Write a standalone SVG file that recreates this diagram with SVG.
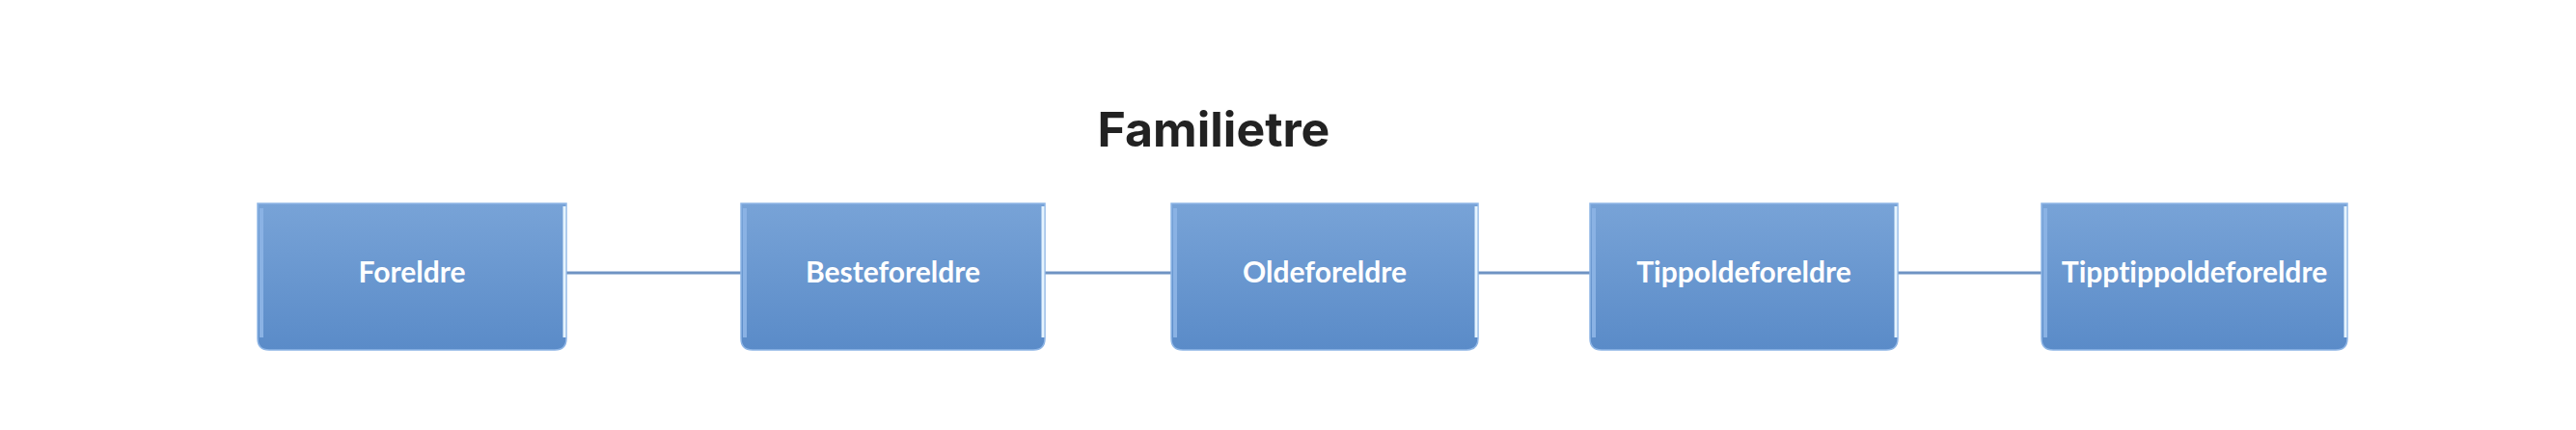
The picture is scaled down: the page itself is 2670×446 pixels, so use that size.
<svg xmlns="http://www.w3.org/2000/svg" width="2670" height="446" viewBox="0 0 2670 446">
<defs>
<linearGradient id="g" x1="0" y1="0" x2="0" y2="1">
<stop offset="0" stop-color="#78a3d7"/>
<stop offset="1" stop-color="#5a8bc8"/>
</linearGradient>
</defs>
<style>
.box{fill:url(#g);stroke:#8fb6e6;stroke-width:1.5}
.hl{fill:none;stroke:#e6f4ff;stroke-width:3}
.hll{fill:none;stroke:#8ab2e4;stroke-width:4}
.lbl{font-family:Lato,"Open Sans",sans-serif;font-weight:700;font-size:30px;fill:#ffffff;text-anchor:middle;font-variant-ligatures:none}
.title{font-family:Inter,"Noto Sans",sans-serif;font-weight:700;font-size:50px;fill:#222222;text-anchor:middle}
.conn line{stroke:#6f93c3;stroke-width:3}
</style>
<rect width="2670" height="446" fill="#ffffff"/>
<text class="title" x="1258" y="152">Familietre</text>
<g class="conn">
<line x1="587" y1="283" x2="768" y2="283"/>
<line x1="1083" y1="283" x2="1214" y2="283"/>
<line x1="1532" y1="283" x2="1648" y2="283"/>
<line x1="1967" y1="283" x2="2116" y2="283"/>
</g>
<g id="n1">
<path class="box" d="M267 211 H587 V351 Q587 363 575 363 H279 Q267 363 267 351 Z"/>
<path class="hll" d="M271 216 V350"/>
<path class="hl" d="M585 214 V350"/>
<text class="lbl" x="427" y="293">Foreldre</text>
</g>
<g id="n2">
<path class="box" d="M768 211 H1083 V351 Q1083 363 1071 363 H780 Q768 363 768 351 Z"/>
<path class="hll" d="M772 216 V350"/>
<path class="hl" d="M1081 214 V350"/>
<text class="lbl" x="925.5" y="293">Besteforeldre</text>
</g>
<g id="n3">
<path class="box" d="M1214 211 H1532 V351 Q1532 363 1520 363 H1226 Q1214 363 1214 351 Z"/>
<path class="hll" d="M1218 216 V350"/>
<path class="hl" d="M1530 214 V350"/>
<text class="lbl" x="1373" y="293">Oldeforeldre</text>
</g>
<g id="n4">
<path class="box" d="M1648 211 H1967 V351 Q1967 363 1955 363 H1660 Q1648 363 1648 351 Z"/>
<path class="hll" d="M1652 216 V350"/>
<path class="hl" d="M1965 214 V350"/>
<text class="lbl" x="1807.5" y="293">Tippoldeforeldre</text>
</g>
<g id="n5">
<path class="box" d="M2116 211 H2433 V351 Q2433 363 2421 363 H2128 Q2116 363 2116 351 Z"/>
<path class="hll" d="M2120 216 V350"/>
<path class="hl" d="M2431 214 V350"/>
<text class="lbl" x="2274.5" y="293">Tipptippoldeforeldre</text>
</g>
</svg>
